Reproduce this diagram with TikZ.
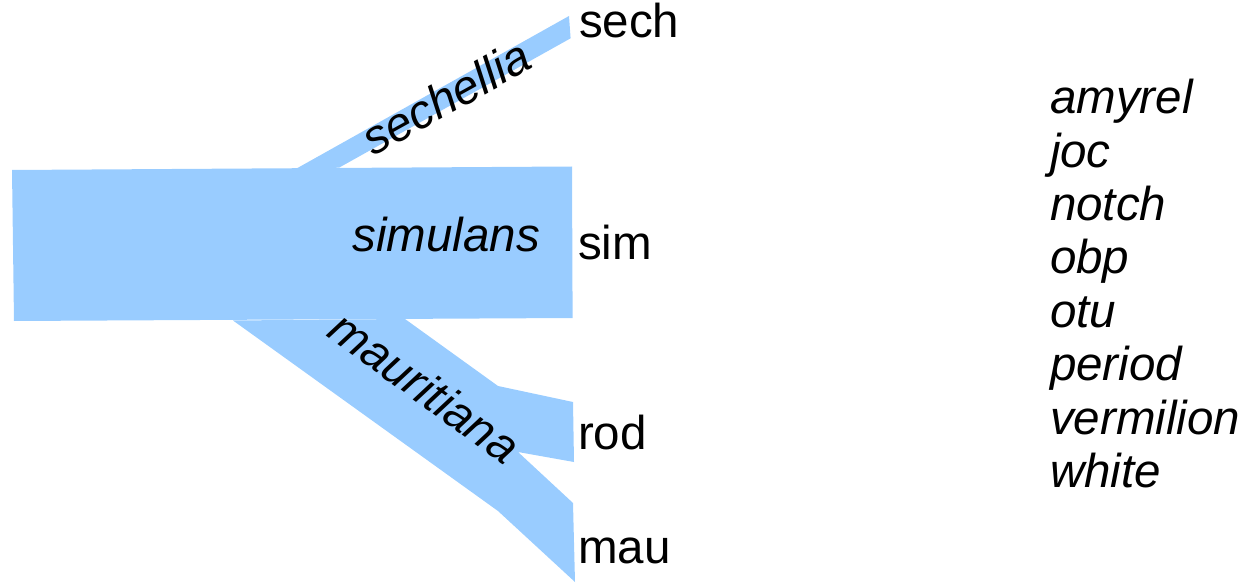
\documentclass[tikz,border=0pt]{standalone}
\usepackage{fontspec}
\setmainfont{Liberation Sans}
\definecolor{branchblue}{RGB}{153,204,255}
\begin{document}
\begin{tikzpicture}[x=1bp,y=-1bp,
  branch/.style={fill=branchblue,draw=none},
  lbl/.style={inner sep=0pt,outer sep=0pt,font=\fontsize{47.7pt}{52pt}\selectfont},
  tip/.style={lbl,anchor=base west},
  clade/.style={lbl,font=\fontsize{47.7pt}{52pt}\selectfont\itshape},
  gene/.style={lbl,anchor=base west,font=\fontsize{47.7pt}{52pt}\selectfont\itshape}]
\useasboundingbox (0,0) rectangle (1246,583);

% simulans stem
\fill[branch] (12,170) -- (572,166.5) -- (572.6,318) -- (14,321) -- cycle;
% sechellia branch
\fill[branch] (296.6,168.5) -- (569,16) -- (570.6,38.3) -- (339,167.7) -- cycle;
% mauritiana branch
\fill[branch] (233,320.5) -- (405,319) -- (498,386) -- (498,511) -- cycle;
% rod / mau split
\fill[branch] (498,386) -- (573,402) -- (574,462) -- (518,452) -- (573,503)
  -- (575,582) -- (498,511) -- cycle;

% clade names
\node[clade,rotate=29] (sechellia) at (446,97) {sechellia};
\node[clade,anchor=base east] (simulans) at (540,252) {simulans};
\node[clade,rotate=-36] (mauritiana) at (425,387) {mauritiana};

% tip labels
\node[tip] (sech) at (579,38) {sech};
\node[tip] (sim) at (578,260) {sim};
\node[tip] (rod) at (578,449) {rod};
\node[tip] (mau) at (578,563) {mau};

% gene list
\node[gene] (amyrel) at (1050,114) {amyrel};
\node[gene] (joc) at (1050,167.3) {joc};
\node[gene] (notch) at (1050,220.6) {notch};
\node[gene] (obp) at (1050,274) {obp};
\node[gene] (otu) at (1050,327.3) {otu};
\node[gene] (period) at (1050,380.6) {period};
\node[gene] (vermilion) at (1050,434) {vermilion};
\node[gene] (white) at (1050,487) {white};
\end{tikzpicture}
\end{document}
